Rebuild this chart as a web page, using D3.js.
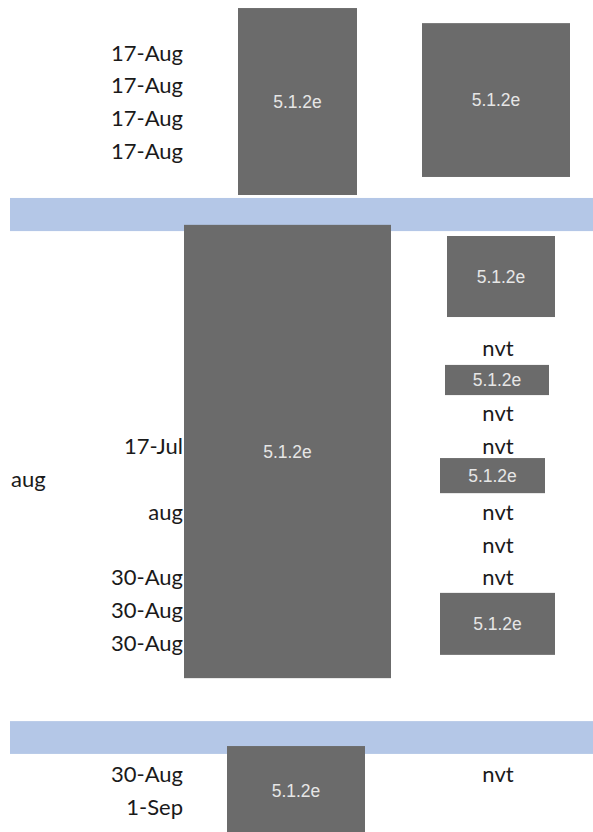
<!DOCTYPE html>
<html>
<head>
<meta charset="utf-8">
<script src="https://cdn.jsdelivr.net/npm/d3@7"></script>
<style>
  body { margin: 0; background: #fff; }
</style>
</head>
<body>
<div id="chart"></div>
<script>
// row labels (date column), by row index
const dateLabels = ["17-Aug", "17-Aug", "17-Aug", "17-Aug", "17-Jul", "aug", "30-Aug", "30-Aug", "30-Aug", "30-Aug", "1-Sep"];
const dateRows   = [0, 1, 2, 3, 12, 14, 16, 17, 18, 22, 23];

// stray label at the far left
const sideLabels = ["aug"];
const sideRows   = [13];

// "nvt" cells in the right column
const nvtLabels = ["nvt", "nvt", "nvt", "nvt", "nvt", "nvt", "nvt"];
const nvtRows   = [9, 11, 12, 14, 15, 16, 22];

// redaction boxes: row span and column span (column units)
const boxText   = ["5.1.2e", "5.1.2e", "5.1.2e", "5.1.2e", "5.1.2e", "5.1.2e", "5.1.2e", "5.1.2e"];
const boxRow0   = [-1.34, -0.88, 5.27, 5.61, 9.54, 12.38, 16.49, 21.16];
const boxRow1   = [4.36, 3.81, 19.09, 8.08, 10.46, 13.45, 18.38, 23.9];
const boxCol0   = [238, 422, 184, 447, 445, 440, 440, 227];
const boxCol1   = [357, 570, 391, 555, 549, 545, 555, 365];

// section separator bands (row spans)
const bandRow0 = [4.45, 20.4];
const bandRow1 = [5.46, 21.4];

const W = 593, H = 832;

const svg = d3.select("#chart")
  .append("svg")
    .attr("width", W)
    .attr("height", H);

// row index -> vertical centre
const y = d3.scaleLinear().domain([0, 1]).range([52, 84.8]);
// column units -> pixels
const x = d3.scaleLinear().domain([0, W]).range([0, W]);

// bands
svg.selectAll("rect.band")
  .data(d3.range(bandRow0.length))
  .join("rect")
    .attr("class", "band")
    .attr("x", x(10))
    .attr("y", i => y(bandRow0[i]))
    .attr("width", x(W) - x(10))
    .attr("height", i => y(bandRow1[i]) - y(bandRow0[i]))
    .attr("fill", "#b4c7e7");

// boxes
const boxes = svg.selectAll("g.box")
  .data(d3.range(boxText.length))
  .join("g")
    .attr("class", "box");

boxes.append("rect")
  .attr("x", i => x(boxCol0[i]))
  .attr("y", i => y(boxRow0[i]))
  .attr("width", i => x(boxCol1[i]) - x(boxCol0[i]))
  .attr("height", i => y(boxRow1[i]) - y(boxRow0[i]))
  .attr("fill", "#6b6b6b");

boxes.append("text")
  .attr("x", i => (x(boxCol0[i]) + x(boxCol1[i])) / 2)
  .attr("y", i => (y(boxRow0[i]) + Math.min(y(boxRow1[i]), H + 4)) / 2)
  .attr("text-anchor", "middle")
  .attr("dominant-baseline", "central")
  .style("font", "17.5px 'Liberation Sans', Arial, sans-serif")
  .style("fill", "#e6e6e6")
  .text(i => boxText[i]);

const labelFont = "22px Lato, 'Open Sans', sans-serif";

// date labels, right aligned
svg.selectAll("text.date")
  .data(d3.range(dateLabels.length))
  .join("text")
    .attr("class", "date")
    .attr("x", x(183))
    .attr("y", i => y(dateRows[i]))
    .attr("text-anchor", "end")
    .attr("dominant-baseline", "central")
    .style("font", labelFont)
    .style("fill", "#1a1a1a")
    .text(i => dateLabels[i]);

svg.selectAll("text.side")
  .data(d3.range(sideLabels.length))
  .join("text")
    .attr("class", "side")
    .attr("x", x(11))
    .attr("y", i => y(sideRows[i]))
    .attr("dominant-baseline", "central")
    .style("font", labelFont)
    .style("fill", "#1a1a1a")
    .text(i => sideLabels[i]);

svg.selectAll("text.nvt")
  .data(d3.range(nvtLabels.length))
  .join("text")
    .attr("class", "nvt")
    .attr("x", x(498))
    .attr("y", i => y(nvtRows[i]))
    .attr("text-anchor", "middle")
    .attr("dominant-baseline", "central")
    .style("font", labelFont)
    .style("fill", "#1a1a1a")
    .text(i => nvtLabels[i]);
</script>
</body>
</html>
